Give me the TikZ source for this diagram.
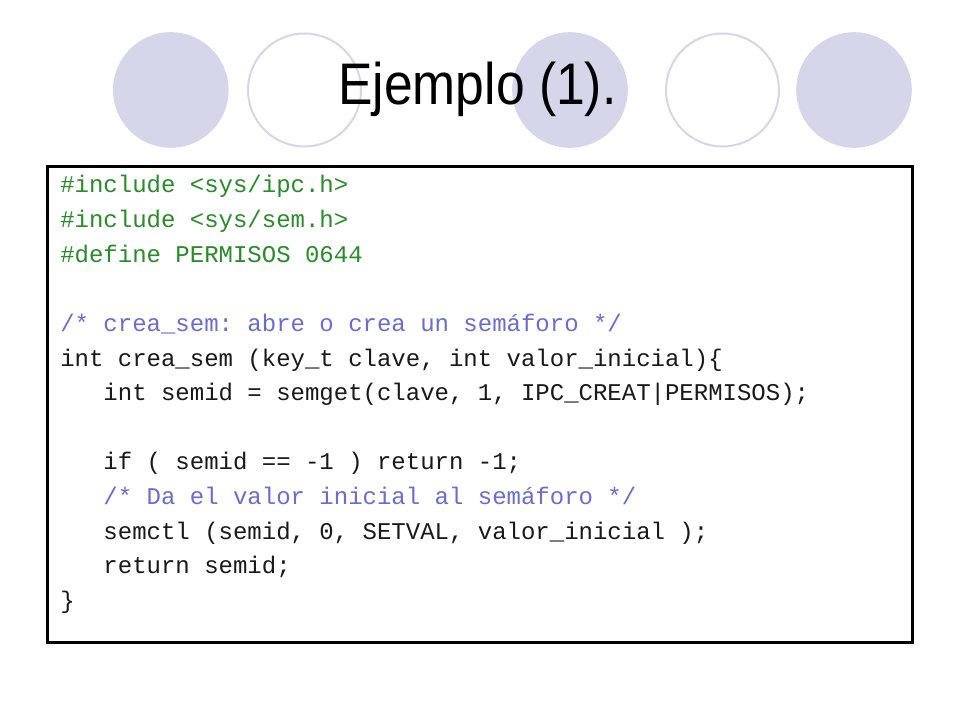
\documentclass[tikz,border=0pt]{standalone}
\usepackage{fontspec}
\setmainfont{Liberation Sans}
\setmonofont{Liberation Mono}
\definecolor{lav}{RGB}{214,214,235}
\definecolor{prep}{RGB}{40,140,40}
\definecolor{cmt}{RGB}{108,108,208}
\definecolor{code}{RGB}{25,25,25}
\begin{document}
\begin{tikzpicture}[x=0.75pt,y=-0.75pt,
  dot/.style={fill=lav},
  ring/.style={draw=lav,fill=white,line width=1.5pt},
  codebox/.style={draw=black,line width=2.25pt,fill=none,inner sep=0pt,
    minimum width=648.75pt,minimum height=356.25pt},
  codeline/.style={anchor=base west,inner sep=0pt,text=code,
    font=\ttfamily\fontsize{18}{18}\selectfont\frenchspacing},
  pre/.style={codeline,text=prep},
  com/.style={codeline,text=cmt},
  titletext/.style={anchor=base west,inner sep=0pt,text=black,
    font=\fontsize{44}{44}\selectfont}]
\useasboundingbox (0,0) rectangle (960,720);
\fill[white] (0,0) rectangle (960,720);
% decorative circles
\fill[dot] (170.8,90) circle (57.8);
\draw[ring] (304.5,90) circle (56.5);
\fill[dot] (570,90) circle (57.8);
\draw[ring] (722.5,90) circle (56.5);
\fill[dot] (854,90) circle (57.8);
% title
\node[titletext] (title) at (338,105) {\scalebox{0.88}[1]{Ejemplo (1).}};
% code box
\node[codebox] (box) at (479.5,404.5) {};
% code lines
\def\lh{34.6}
\node[pre] (l1) at (60,193) {\#include <sys/ipc.h>};
\node[pre] (l2) at (60,193+1*\lh) {\#include <sys/sem.h>};
\node[pre] (l3) at (60,193+2*\lh) {\#define PERMISOS 0644};
\node[com] (l5) at (60,193+4*\lh) {/* crea\_sem: abre o crea un semáforo */};
\node[codeline] (l6) at (60,193+5*\lh) {int crea\_sem (key\_t clave, int valor\_inicial)\{};
\node[codeline] (l7) at (60,193+6*\lh) {\ \ \ int semid = semget(clave, 1, IPC\_CREAT|PERMISOS);};
\node[codeline] (l9) at (60,193+8*\lh) {\ \ \ if ( semid == -1 ) return -1;};
\node[com] (l10) at (60,193+9*\lh) {\ \ \ /* Da el valor inicial al semáforo */};
\node[codeline] (l11) at (60,193+10*\lh) {\ \ \ semctl (semid, 0, SETVAL, valor\_inicial );};
\node[codeline] (l12) at (60,193+11*\lh) {\ \ \ return semid;};
\node[codeline] (l13) at (60,193+12*\lh) {\}};
\end{tikzpicture}
\end{document}
